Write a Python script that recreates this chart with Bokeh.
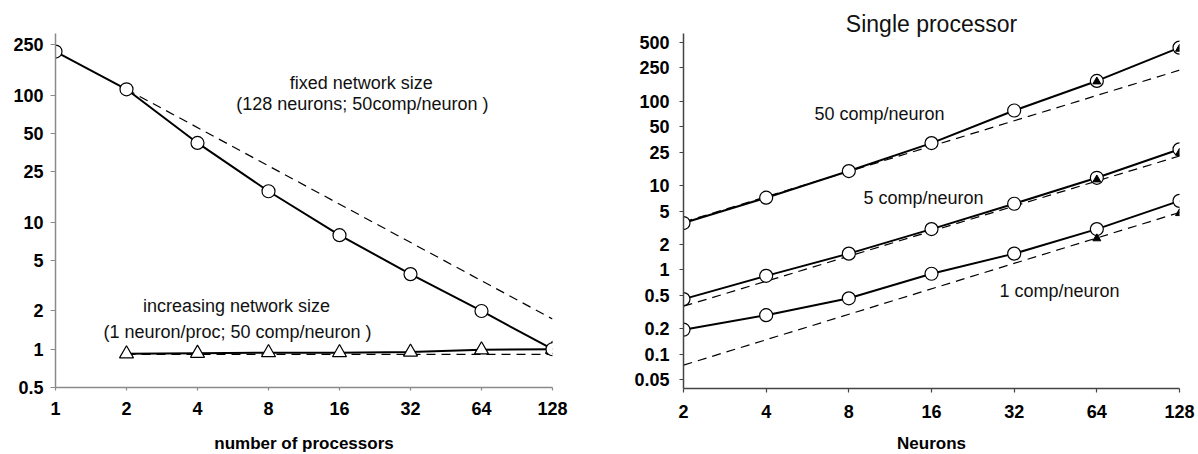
from bokeh.plotting import figure
from bokeh.layouts import row
from bokeh.models import FixedTicker, CustomJSTickFormatter, Label, Title
from bokeh.embed import file_html
from bokeh.resources import INLINE

# ---------------- data: left panel ----------------
procs = [1, 2, 4, 8, 16, 32, 64, 128]
fixed_time = [220, 111, 42, 17.5, 7.9, 3.9, 2.0, 1.0]
fixed_ideal_x = [2, 128]
fixed_ideal_y = [111, 1.73]
incr_procs = [2, 4, 8, 16, 32, 64, 128]
incr_time = [0.92, 0.93, 0.94, 0.94, 0.95, 0.99, 1.0]
incr_ideal_x = [2, 128]
incr_ideal_y = [0.91, 0.91]
left_yticks = [0.5, 1, 2, 5, 10, 25, 50, 100, 250]
left_xticks = [1, 2, 4, 8, 16, 32, 64, 128]

# ---------------- data: right panel ----------------
neurons = [2, 4, 8, 16, 32, 64, 128]
c50 = [3.6, 7.2, 14.9, 32, 78, 175, 435]
c5 = [0.45, 0.85, 1.56, 3.05, 6.1, 12.4, 27]
c1 = [0.195, 0.29, 0.46, 0.9, 1.56, 3.05, 6.6]
tri_x = [64, 128]
c50_tri = [172, 420]
c5_tri = [11.8, 24.5]
c1_tri = [2.36, 4.7]
ideal_x = [2, 128]
c50_ideal = [3.7, 235]
c5_ideal = [0.37, 22.5]
c1_ideal = [0.074, 4.8]
right_yticks = [0.05, 0.1, 0.2, 0.5, 1, 2, 5, 10, 25, 50, 100, 250, 500]
right_xticks = [2, 4, 8, 16, 32, 64, 128]

FONT = "Liberation Sans"
fmt = CustomJSTickFormatter(code="return String(tick)")


def style(p, axis_color, tick_out_y, standoff_y, tick_out_x, standoff_x):
    p.outline_line_color = None
    p.xgrid.visible = False
    p.ygrid.visible = False
    for ax in (p.xaxis[0], p.yaxis[0]):
        ax.axis_line_color = axis_color
        ax.axis_line_width = 1.5
        ax.major_tick_line_color = axis_color
        ax.major_tick_line_width = 1.2
        ax.major_tick_in = 0
        ax.minor_tick_line_color = None
        ax.major_label_text_font = FONT
        ax.major_label_text_font_style = "bold"
        ax.major_label_text_font_size = "18px"
        ax.major_label_text_color = "black"
        ax.axis_label_text_font = FONT
        ax.axis_label_text_font_style = "bold"
        ax.axis_label_text_font_size = "17px"
        ax.axis_label_text_color = "black"
        ax.formatter = fmt
    p.yaxis[0].major_tick_out = tick_out_y
    p.yaxis[0].major_label_standoff = standoff_y
    p.xaxis[0].major_tick_out = tick_out_x
    p.xaxis[0].major_label_standoff = standoff_x


# ---------------- left figure ----------------
p1 = figure(x_axis_type="log", y_axis_type="log", x_range=(1, 128), y_range=(0.5, 305),
            frame_width=497, frame_height=354, min_border_left=55, min_border_right=38,
            min_border_top=30, min_border_bottom=70, output_backend="svg",
            toolbar_location=None, background_fill_color="white")
style(p1, "#8a8a8a", 5, 7, 3, 11)
p1.xaxis[0].ticker = FixedTicker(ticks=left_xticks)
p1.yaxis[0].ticker = FixedTicker(ticks=left_yticks)
p1.xaxis[0].axis_label = "number of processors"
p1.xaxis[0].axis_label_standoff = 16

p1.line(fixed_ideal_x, fixed_ideal_y, line_color="black", line_width=1.2, line_dash="9 6")
p1.line(incr_ideal_x, incr_ideal_y, line_color="black", line_width=1.2, line_dash="9 6")
p1.line(procs, fixed_time, line_color="black", line_width=2)
p1.line(incr_procs, incr_time, line_color="black", line_width=2)
p1.scatter(incr_procs, incr_time, marker="triangle", size=14, fill_color="white",
           line_color="black", line_width=1.2)
p1.scatter(procs, fixed_time, marker="circle", size=13, fill_color="white",
           line_color="black", line_width=1.2)

for txt, x, y in [("fixed network size", 19.8, 124),
                  ("(128 neurons; 50comp/neuron )", 20.0, 85),
                  ("increasing network size", 5.85, 2.19),
                  ("(1 neuron/proc; 50 comp/neuron )", 5.91, 1.36)]:
    p1.add_layout(Label(x=x, y=y, text=txt, text_align="center", text_baseline="middle",
                        text_font=FONT, text_font_size="18px", text_color="#111"))

# ---------------- right figure ----------------
p2 = figure(x_axis_type="log", y_axis_type="log", x_range=(2, 128), y_range=(0.0391, 640),
            frame_width=496, frame_height=355, min_border_left=93, min_border_right=19,
            min_border_top=33, min_border_bottom=66, output_backend="svg",
            toolbar_location=None, background_fill_color="white")
style(p2, "#444444", 4, 10, 4, 12)
p2.xaxis[0].ticker = FixedTicker(ticks=right_xticks)
p2.yaxis[0].ticker = FixedTicker(ticks=right_yticks)
p2.xaxis[0].axis_label = "Neurons"
p2.xaxis[0].axis_label_standoff = 13

for iy in (c50_ideal, c5_ideal, c1_ideal):
    p2.line(ideal_x, iy, line_color="black", line_width=1.2, line_dash="9 6")
for sy in (c50, c5, c1):
    p2.line(neurons, sy, line_color="black", line_width=2)
    p2.scatter(neurons, sy, marker="circle", size=13, fill_color="white",
               line_color="black", line_width=1.2)
for ty in (c50_tri, c5_tri, c1_tri):
    p2.scatter(tri_x, ty, marker="triangle", size=8, fill_color="black", line_color="black")

for txt, x, y in [("50 comp/neuron", 6.0, 70),
                  ("5 comp/neuron", 9.04, 7.2),
                  ("1 comp/neuron", 28.3, 0.558)]:
    p2.add_layout(Label(x=x, y=y, text=txt, text_align="left", text_baseline="middle",
                        text_font=FONT, text_font_size="18px", text_color="#111"))

p2.add_layout(Title(text="Single processor", align="center", text_font=FONT,
                    text_font_size="23px", text_font_style="normal", text_color="#111",
                    offset=10, standoff=-7), "above")

layout = row(p1, p2)
open("out.html", "w").write(file_html(layout, INLINE))
